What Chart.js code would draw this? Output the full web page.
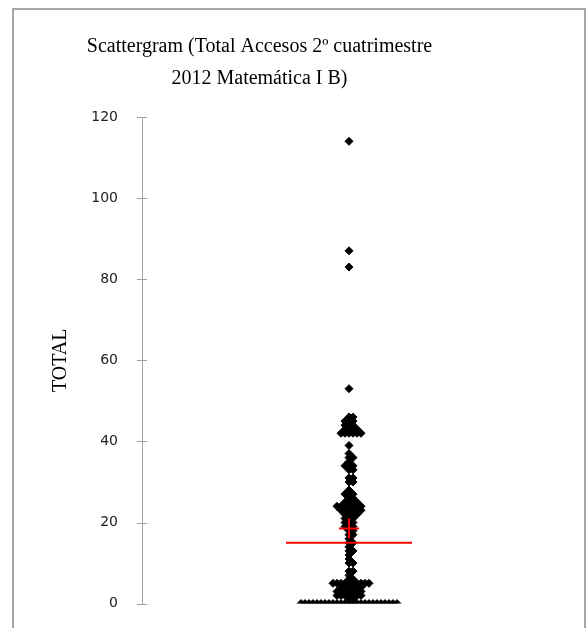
<!DOCTYPE html>
<html><head><meta charset="utf-8">
<script src="https://cdn.jsdelivr.net/npm/chart.js@4"></script>
<style>
html,body{margin:0;padding:0;background:#fff;width:587px;height:628px;overflow:hidden}
#frame{position:absolute;left:12px;top:8px;width:574px;height:700px;border:2px solid #a6a6a6;box-sizing:border-box}
#wrap{position:absolute;left:0;top:0;width:491px;height:618px}
</style></head><body>
<div id="frame"><div id="wrap"><canvas id="c" width="491" height="618" style="width:491px;height:618px"></canvas></div></div>
<script>
// ---- data ----
const titleLines = ['Scattergram (Total Accesos 2º cuatrimestre', '2012 Matemática I B)'];
const yAxisTitle = 'TOTAL';
const yTickValues = [0, 20, 40, 60, 80, 100, 120];
// distinct TOTAL values and how many students share each value
const accessValues = [0,1,2,3,4,5,6,7,8,10,11,12,13,14,15,16,17,18,19,20,21,22,23,24,25,26,27,28,30,31,33,34,35,36,37,39,42,43,44,45,46,53,83,87,114];
const studentCounts = [25,2,7,7,6,10,2,1,2,2,1,1,2,1,2,1,2,2,3,3,3,4,6,7,4,2,3,1,2,2,2,3,1,2,1,1,6,4,3,3,2,1,1,1,1];
const medianValue = 15;   // long red line
const meanValue = 18.5;   // red cross

// ---- layout / style parameters ----
const SPREAD_STEP = 4;        // horizontal step between equal values
const MEDIAN_HALF = 63;       // half length of the red line

// build scatter points: equal values spread alternately right/left of the centre
const points = [];
accessValues.forEach((v, k) => {
  const n = studentCounts[k];
  for (let i = 0; i < n; i++) {
    const off = i === 0 ? 0 : (i % 2 === 1 ? Math.ceil(i / 2) : -(i / 2)) * SPREAD_STEP;
    points.push({x: off, y: v});
  }
});

const crossTicks = {
  id: 'crossTicks',
  afterDraw(chart) {
    const s = chart.scales.y, ctx = chart.ctx;
    ctx.save();
    ctx.strokeStyle = '#a0a0a0';
    ctx.lineWidth = 1;
    s.ticks.forEach(t => {
      const y = Math.round(s.getPixelForValue(t.value)) + 0.5;
      ctx.beginPath();
      ctx.moveTo(s.right - 5, y);
      ctx.lineTo(s.right + 5, y);
      ctx.stroke();
    });
    ctx.restore();
  }
};

new Chart(document.getElementById('c'), {
  type: 'scatter',
  data: {
    datasets: [
      {
        type: 'scatter',
        data: [{x: 0, y: meanValue}],
        pointStyle: 'cross',
        pointRadius: 10,
        pointHoverRadius: 10,
        borderColor: '#ff0000',
        backgroundColor: '#ff0000',
        borderWidth: 2
      },
      {
        type: 'line',
        data: [{x: -MEDIAN_HALF, y: medianValue}, {x: MEDIAN_HALF, y: medianValue}],
        borderColor: '#ff0000',
        borderWidth: 2,
        pointRadius: 0,
        fill: false
      },
      {
        type: 'scatter',
        data: points,
        pointStyle: 'rectRot',
        pointRadius: 4,
        pointHoverRadius: 4,
        backgroundColor: '#000',
        borderColor: '#000',
        borderWidth: 1
      }
    ]
  },
  options: {
    responsive: false,
    animation: false,
    devicePixelRatio: 1,
    layout: {padding: {left: 0, right: 0, top: 0, bottom: 18}},
    plugins: {
      legend: {display: false},
      tooltip: {enabled: false},
      title: {
        display: true,
        text: titleLines,
        color: '#000',
        font: {family: "'Liberation Serif', 'DejaVu Serif', serif", size: 20, weight: 'normal', lineHeight: 1.6},
        padding: {top: 21, bottom: 22}
      }
    },
    scales: {
      x: {
        type: 'linear',
        display: false,
        min: -207,
        max: 144
      },
      y: {
        min: 0,
        max: 120,
        afterFit(scale) { scale.width = 128; },
        afterBuildTicks(scale) { scale.ticks = yTickValues.map(v => ({value: v})); },
        grid: {display: false},
        border: {display: true, color: '#a0a0a0', width: 1},
        ticks: {
          color: '#222',
          padding: 16,
          font: {family: "'DejaVu Sans', sans-serif", size: 14}
        },
        title: {
          display: true,
          text: yAxisTitle,
          color: '#000',
          font: {family: "'Liberation Serif', serif", size: 20, weight: 'normal', lineHeight: 1.2},
          padding: {top: 35, bottom: 0}
        }
      }
    }
  },
  plugins: [crossTicks]
});
</script>
</body></html>
